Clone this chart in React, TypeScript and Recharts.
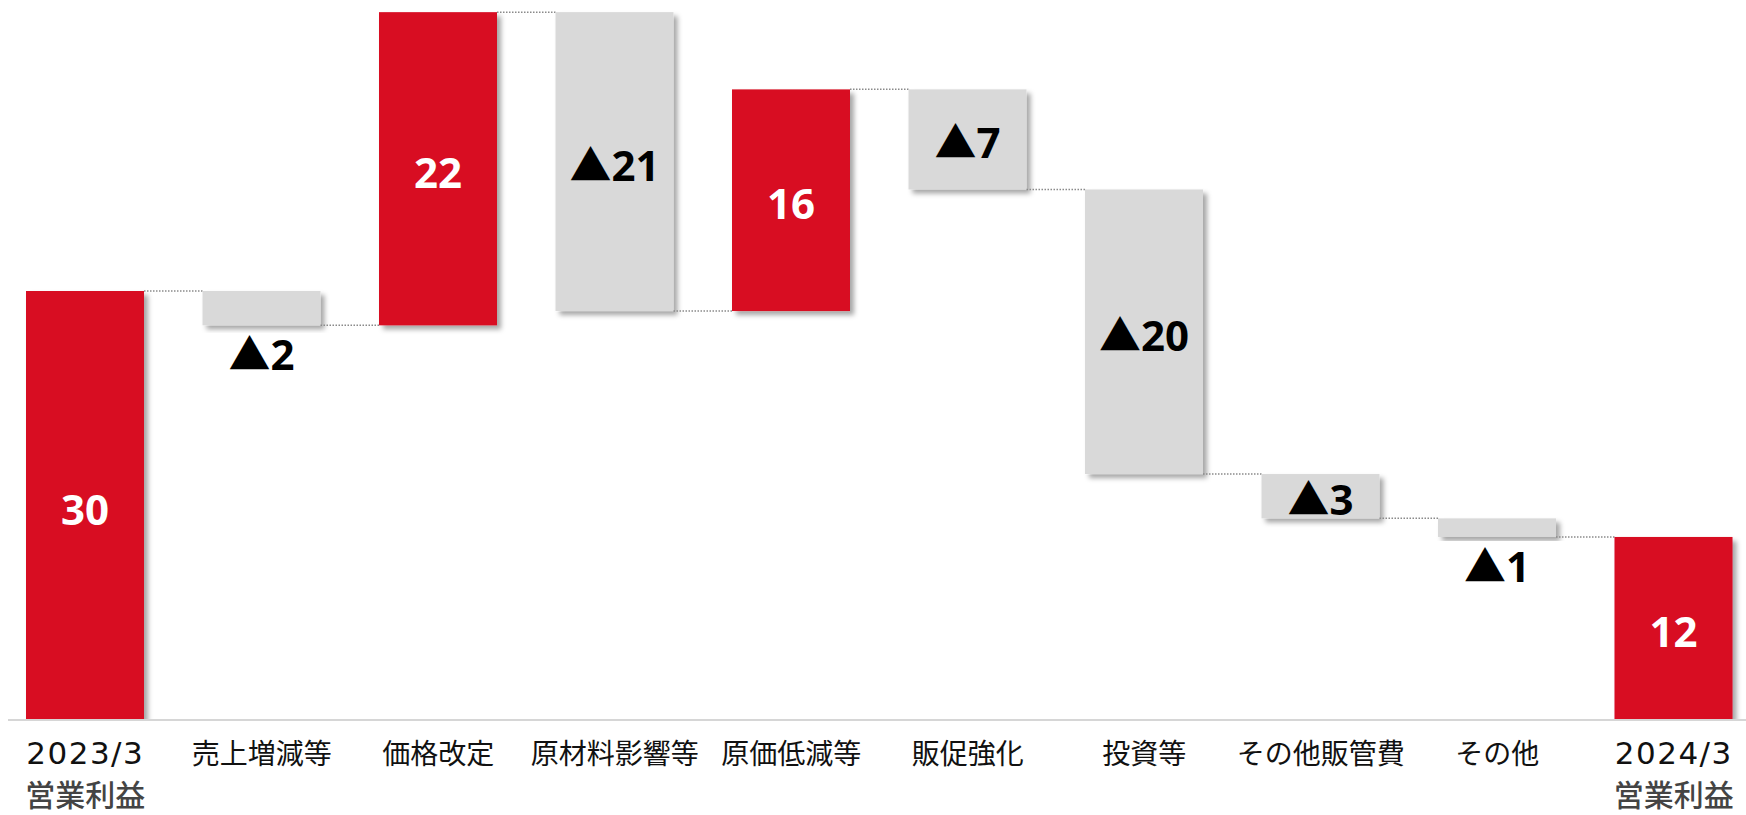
import React from 'react';
import { BarChart, Bar, XAxis, YAxis } from 'recharts';

// Operating profit bridge FY2023/3 -> FY2024/3
const categories = ['2023/3', '売上増減等', '価格改定', '原材料影響等', '原価低減等', '販促強化', '投資等', 'その他販管費', 'その他', '2024/3'];
const subLabels = ['営業利益', '', '', '', '', '', '', '', '', '営業利益'];
const steps = [30, -2.4, 21.9, -20.9, 15.5, -7.0, -19.9, -3.1, -1.3, 12.8];
const isTotal = [true, false, false, false, false, false, false, false, false, true];
const valueLabels = ['30', '▲2', '22', '▲21', '16', '▲7', '▲20', '▲3', '▲1', '12'];

const RED = '#D80C24';
const GRAY = '#D9D9D9';

const WIDTH = 1746;
const HEIGHT = 815;
const MARGIN = { top: 5, right: 0, bottom: 0, left: 8 };
const AXIS_HEIGHT = 95;
const PAD = { left: -11, right: -16 };
const BAR_SIZE = 118;
const BAND = (WIDTH - MARGIN.left - MARGIN.right - PAD.left - PAD.right) / categories.length;
const GAP = BAND - BAR_SIZE;

// build floating [low, high] ranges from the running total
let running = 0;
const chartData = categories.map((name, i) => {
  let range: [number, number];
  if (isTotal[i]) {
    range = [0, steps[i]];
    running = steps[i];
  } else {
    const next = running + steps[i];
    range = [Math.min(running, next), Math.max(running, next)];
    running = next;
  }
  return { name, sub: subLabels[i], step: steps[i], total: isTotal[i], label: valueLabels[i], range };
});

function WaterfallBar(props: any) {
  const { x, y, width, height, index, payload } = props;
  const top = height < 0 ? y + height : y;
  const h = Math.abs(height);
  const up = payload.step > 0;
  const endY = up ? top : top + h;
  const small = h < 40;
  const labelY = small ? top + h + 45 : top + h / 2 + 19;
  return (
    <g>
      <rect x={x} y={top} width={width} height={h} fill={up ? RED : GRAY} filter="url(#barShadow)" />
      {index < categories.length - 1 && (
        <line
          x1={x + width}
          x2={x + width + GAP}
          y1={endY}
          y2={endY}
          stroke="#8a8a8a"
          strokeWidth={1.5}
          strokeDasharray="1.5 1.5"
        />
      )}
      <text
        x={x + width / 2}
        y={labelY}
        textAnchor="middle"
        fill={up ? '#fff' : '#000'}
        fontSize={42}
        fontWeight={700}
        fontFamily="'Open Sans', 'Noto Sans CJK JP', sans-serif"
      >
        {payload.label}
      </text>
    </g>
  );
}

function CategoryTick(props: any) {
  const { x, y, payload, index } = props;
  const sub = subLabels[index];
  const isDate = sub !== '';
  return (
    <g>
      <text
        x={x}
        y={y + 44}
        textAnchor="middle"
        fill="#111"
        fontSize={isDate ? 31 : 28}
        letterSpacing={isDate ? 1.5 : 0}
        fontFamily={isDate ? "'DejaVu Sans', 'Noto Sans CJK JP', sans-serif" : "'Noto Sans CJK JP', sans-serif"}
      >
        {payload.value}
      </text>
      {isDate && (
        <text
          x={x}
          y={y + 86}
          textAnchor="middle"
          fill="#444"
          fontSize={30}
          fontWeight={500}
          fontFamily="'Noto Sans CJK JP', sans-serif"
        >
          {sub}
        </text>
      )}
    </g>
  );
}

export default function App() {
  return (
    <div style={{ position: 'absolute', left: 0, top: 0, width: WIDTH, height: HEIGHT, overflow: 'hidden', background: '#fff' }}>
      <svg width={0} height={0} style={{ position: 'absolute' }}>
        <defs>
          <filter id="barShadow" x="-10%" y="-10%" width="130%" height="130%">
            <feDropShadow dx={4} dy={4} stdDeviation={2.5} floodColor="#000" floodOpacity={0.35} />
          </filter>
        </defs>
      </svg>
      <BarChart width={WIDTH} height={HEIGHT} data={chartData} margin={MARGIN}>
        <XAxis
          dataKey="name"
          height={AXIS_HEIGHT}
          interval={0}
          tickLine={false}
          tickSize={0}
          tickMargin={0}
          padding={PAD}
          axisLine={{ stroke: '#d6d6d6', strokeWidth: 2 }}
          tick={<CategoryTick />}
        />
        <YAxis hide domain={[0, 50]} allowDataOverflow />
        <Bar dataKey="range" barSize={BAR_SIZE} shape={<WaterfallBar />} isAnimationActive={false} />
      </BarChart>
    </div>
  );
}
